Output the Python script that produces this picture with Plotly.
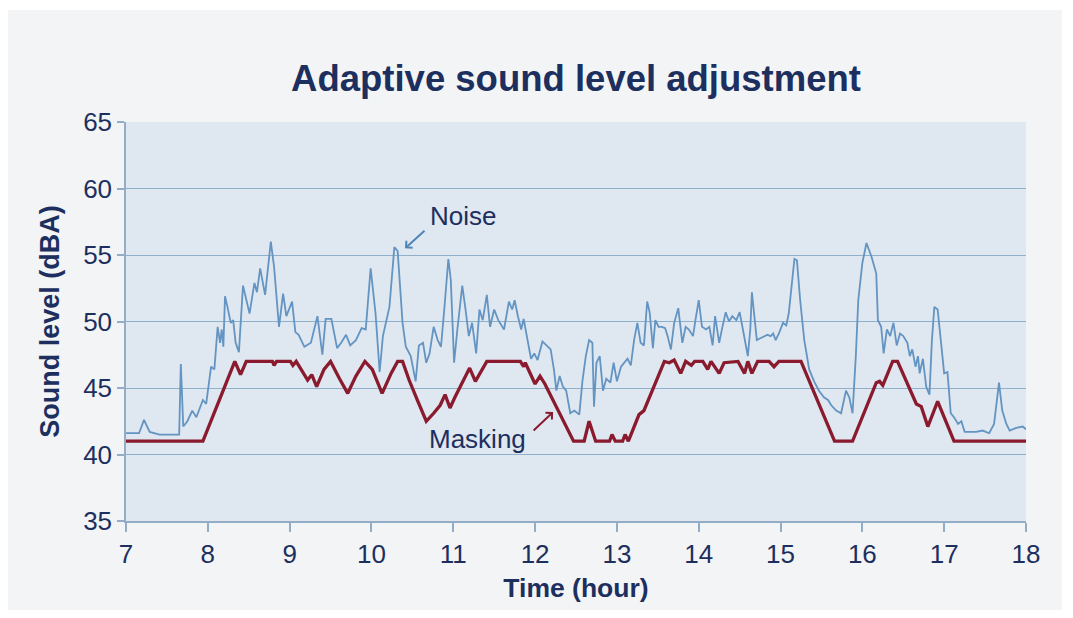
import plotly.graph_objects as go

# ---- data ----
noise_hours = [7.00, 7.16, 7.22, 7.29, 7.41, 7.65, 7.67, 7.70, 7.75, 7.81, 7.86, 7.94, 7.98, 8.04, 8.08,
               8.12, 8.15, 8.17, 8.19, 8.21, 8.24, 8.28, 8.31, 8.34, 8.38, 8.43, 8.51, 8.57, 8.60, 8.64,
               8.70, 8.77, 8.81,
               8.87, 8.92, 8.96, 9.03, 9.07, 9.11, 9.18, 9.26, 9.34, 9.40, 9.44, 9.51, 9.58, 9.63, 9.69,
               9.74, 9.81, 9.88, 9.93, 9.99, 10.05, 10.10, 10.14, 10.22, 10.28, 10.32, 10.38, 10.42,
               10.48, 10.54, 10.58, 10.63,
               10.67, 10.71, 10.76, 10.81, 10.85, 10.89, 10.94, 10.97, 11.01, 11.05, 11.11, 11.15, 11.19,
               11.23, 11.28, 11.32, 11.36, 11.41, 11.45, 11.50, 11.55, 11.62, 11.68, 11.72, 11.75, 11.79,
               11.83, 11.86, 11.91, 11.95, 11.99, 12.03, 12.09, 12.15, 12.19, 12.23, 12.26, 12.30, 12.34,
               12.38, 12.43, 12.48,
               12.54, 12.58, 12.62, 12.66, 12.70, 12.72, 12.75, 12.79, 12.83, 12.87, 12.92, 12.96, 13.00,
               13.05, 13.09, 13.13, 13.17, 13.21, 13.25, 13.29, 13.33, 13.37, 13.40, 13.44, 13.47, 13.51,
               13.55, 13.59, 13.62, 13.66, 13.70, 13.75, 13.80, 13.84, 13.88, 13.93, 13.96, 14.00, 14.04,
               14.09, 14.13, 14.17, 14.20, 14.25, 14.29,
               14.33, 14.37, 14.41, 14.46, 14.50, 14.54, 14.58, 14.60, 14.63, 14.65, 14.68, 14.71, 14.74,
               14.80, 14.84, 14.88, 14.91, 14.94, 14.98, 15.03, 15.07, 15.10, 15.13, 15.17, 15.20, 15.24,
               15.29, 15.35, 15.41, 15.47, 15.53, 15.58, 15.62, 15.68, 15.74, 15.80, 15.84, 15.88, 15.92,
               15.95, 16.00, 16.05, 16.11, 16.17,
               16.19, 16.23, 16.26, 16.30, 16.34, 16.38, 16.42, 16.46, 16.50, 16.55, 16.58, 16.61, 16.65,
               16.68, 16.70, 16.74, 16.78, 16.82, 16.85, 16.88, 16.92, 16.96, 17.00, 17.04, 17.08, 17.12,
               17.17, 17.21, 17.25, 17.31, 17.39, 17.47, 17.55, 17.61, 17.67, 17.71, 17.76, 17.80, 17.88,
               17.96, 18.00]
noise_db = [41.6, 41.6, 42.6, 41.7, 41.5, 41.5, 46.8, 42.1, 42.5, 43.3, 42.8, 44.1, 43.8, 46.6, 46.4,
            49.6, 48.4, 49.4, 48.1, 51.9, 51.1, 49.9, 50.1, 48.4, 47.7, 52.7, 50.6, 52.9, 52.2, 54.0,
            52.0, 56.0, 54.1,
            49.6, 52.1, 50.4, 51.5, 49.2, 49.0, 48.1, 48.4, 50.4, 47.5, 50.2, 50.2, 48.0, 48.4, 49.0,
            48.2, 48.6, 49.5, 49.4, 54.0, 50.6, 46.2, 48.9, 51.1, 55.6, 55.3, 49.9, 48.1,
            47.4, 45.5, 48.2, 48.4,
            46.9, 47.6, 49.6, 48.6, 48.1, 50.9, 54.7, 53.1, 46.9, 49.4, 52.7, 50.9, 48.9,
            49.9, 47.6, 50.9, 50.1, 52.0, 49.6, 50.9, 50.1, 49.4, 51.5, 50.9, 51.6, 50.4,
            49.4, 50.2, 48.6, 47.2, 47.6, 47.1, 48.5, 48.1, 47.9, 46.4, 44.8, 45.9, 45.1,
            44.8, 43.1, 43.3,
            43.0, 45.6, 47.4, 48.6, 48.4, 43.6, 46.9, 47.4, 44.8, 45.7, 45.4, 46.9, 45.5,
            46.6, 46.9, 47.2, 46.7, 48.6, 49.9, 48.4, 48.2, 51.5, 50.7, 48.0, 50.1, 49.6,
            49.6, 49.5, 48.9, 47.9, 49.9, 51.0, 48.4, 49.6, 49.4, 48.9, 50.1, 51.6, 49.6,
            49.4, 49.6, 48.2, 50.4, 48.4, 49.6,
            50.7, 50.0, 50.4, 50.1, 50.7, 49.4, 48.0, 47.4, 49.4, 52.2, 50.4, 48.6, 48.7,
            48.9, 49.0, 48.9, 49.1, 48.6, 49.1, 49.9, 49.7, 50.6, 52.4, 54.7, 54.6, 51.6,
            48.6, 46.4, 45.5, 44.8, 44.3, 44.1, 43.7, 43.3, 43.1, 44.8, 44.3, 43.1, 47.4,
            51.6, 54.4, 55.9, 54.9, 53.6,
            50.1, 49.6, 47.6, 49.4, 48.9, 49.9, 48.2, 49.1, 48.9, 48.4, 47.4, 47.9, 46.6,
            47.4, 46.1, 47.2, 45.1, 44.5, 48.6, 51.1, 50.9, 48.6, 46.1, 46.2, 43.1, 42.8,
            42.3, 42.5, 41.7, 41.7, 41.7, 41.8, 41.6, 42.3, 45.4, 43.3, 42.3, 41.8, 42.0,
            42.1, 41.9]

mask_hours = [7.00, 7.94, 8.33, 8.40, 8.47, 8.79, 8.81, 8.84, 9.01, 9.04, 9.08, 9.14, 9.22, 9.27,
              9.33, 9.42, 9.50, 9.61, 9.71, 9.81, 9.92, 10.01, 10.13, 10.24, 10.32, 10.38, 10.46,
              10.56, 10.67, 10.76, 10.84, 10.90, 10.96, 11.02, 11.20, 11.27, 11.41, 11.82, 11.86,
              11.88, 12.00, 12.06, 12.12, 12.47, 12.60, 12.66, 12.74, 12.91, 12.94, 12.98, 13.07,
              13.10, 13.14, 13.27, 13.33, 13.58, 13.64, 13.70, 13.78, 13.84, 13.91, 13.95, 14.05,
              14.11, 14.15, 14.25, 14.31, 14.48, 14.56, 14.60, 14.65, 14.72, 14.86, 14.92, 14.98,
              15.25, 15.66, 15.88, 16.17, 16.21, 16.25, 16.37, 16.43, 16.66, 16.72, 16.80, 16.92,
              17.12, 18.00]
mask_db = [41.0, 41.0, 47.0, 46.0, 47.0, 47.0, 46.7, 47.0, 47.0, 46.7, 47.0, 46.4, 45.6, 46.0,
           45.1, 46.4, 47.0, 45.7, 44.6, 45.9, 47.0, 46.4, 44.6, 46.1, 47.0, 47.0, 45.6,
           44.1, 42.5, 43.1, 43.7, 44.5, 43.5, 44.3, 46.5, 45.5, 47.0, 47.0, 46.6,
           46.9, 45.3, 45.9, 45.3, 41.0, 41.0, 42.5, 41.0, 41.0, 41.5, 41.0, 41.0,
           41.5, 41.0, 43.0, 43.3, 47.0, 46.9, 47.1, 46.1, 47.0, 46.7, 47.0, 47.0,
           46.4, 47.0, 46.1, 46.9, 47.0, 46.1, 47.0, 46.1, 47.0, 47.0, 46.6, 47.0,
           47.0, 41.0, 41.0, 45.4, 45.5, 45.2, 47.0, 47.0, 43.8, 43.6, 42.1, 44.0,
           41.0, 41.0]

x_ticks = list(range(7, 19))
y_ticks = [35, 40, 45, 50, 55, 60, 65]

title_text = "Adaptive sound level adjustment"
x_title = "Time (hour)"
y_title = "Sound level (dBA)"

NAVY = "#1c2f5e"
FONT = "Liberation Sans, Arial, sans-serif"

fig = go.Figure()
fig.add_trace(go.Scatter(x=noise_hours, y=noise_db, mode="lines", name="Noise",
                         line=dict(color="#6394c2", width=1.8), showlegend=False))
fig.add_trace(go.Scatter(x=mask_hours, y=mask_db, mode="lines", name="Masking",
                         line=dict(color="#8a1b2e", width=3.3), showlegend=False))

# Frame and plot background as shapes
fig.add_shape(type="rect", xref="paper", yref="paper", x0=-0.131, x1=1.04, y0=-0.223, y1=1.281,
              fillcolor="#f3f4f5", line=dict(width=0), layer="below")
fig.add_shape(type="rect", xref="paper", yref="paper", x0=0, x1=1, y0=0, y1=1,
              fillcolor="#dfe7f0", line=dict(width=0), layer="below")

# Annotations
fig.add_annotation(x=11.12, y=57.93, text="Noise", showarrow=False,
                   font=dict(family=FONT, size=26, color=NAVY))
fig.add_annotation(x=10.41, y=55.5, text="", showarrow=True, ax=21, ay=-19,
                   arrowhead=4, arrowsize=0.9, arrowwidth=2, arrowcolor="#4f86b8")
fig.add_annotation(x=11.29, y=41.17, text="Masking", showarrow=False,
                   font=dict(family=FONT, size=26, color=NAVY))
fig.add_annotation(x=12.22, y=43.2, text="", showarrow=True, ax=-21, ay=20,
                   arrowhead=4, arrowsize=0.9, arrowwidth=2, arrowcolor="#8a1b2e")

fig.update_layout(
    width=1073, height=618,
    margin=dict(l=126, r=47, t=122, b=97),
    paper_bgcolor="white",
    plot_bgcolor="rgba(0,0,0,0)",
    title=dict(text="<b>" + title_text + "</b>", x=0.5, xref="paper", y=1 - 78 / 618,
               yref="container", yanchor="middle", xanchor="center",
               font=dict(family=FONT, size=36.5, color=NAVY)),
    font=dict(family=FONT, color=NAVY),
)
fig.update_xaxes(range=[7, 18], tickvals=x_ticks, ticktext=[str(v) for v in x_ticks],
                 showgrid=False, zeroline=False, showline=True, linecolor="#93adc6", linewidth=1.5,
                 ticks="outside", ticklen=9, tickwidth=1.5, tickcolor="#93adc6",
                 tickfont=dict(family=FONT, size=26, color=NAVY),
                 title=dict(text="<b>" + x_title + "</b>", font=dict(family=FONT, size=26.5, color=NAVY),
                            standoff=10))
fig.update_yaxes(range=[35, 65], tickvals=y_ticks, ticktext=[str(v) for v in y_ticks],
                 showgrid=True, gridcolor="#8fb0cb", gridwidth=1.4, zeroline=False,
                 showline=True, linecolor="#93adc6", linewidth=1.5,
                 ticks="outside", ticklen=7, tickwidth=1.5, tickcolor="#93adc6",
                 tickfont=dict(family=FONT, size=26, color=NAVY),
                 title=dict(text="<b>" + y_title + "</b>", font=dict(family=FONT, size=27, color=NAVY),
                            standoff=16))

fig.write_html("out.html", config={"displayModeBar": False},
               post_script="document.body.style.margin='0';document.body.style.overflow='hidden';")
